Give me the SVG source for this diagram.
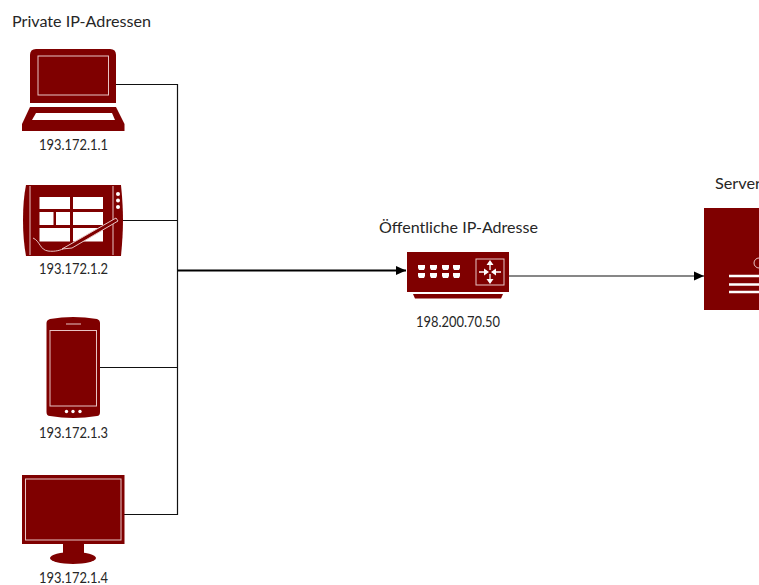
<svg xmlns="http://www.w3.org/2000/svg" width="759" height="585" viewBox="0 0 759 585">
<style>
.t{font-family:"Lato","Noto Sans","Liberation Sans",sans-serif;font-size:14.5px;fill:#262626}
.m{text-anchor:middle}
.f{fill:#7f0000}
.w{fill:#fff}
.o{fill:none;stroke:#e8c4c4;stroke-width:1}
.c{fill:none;stroke:#111;stroke-width:1.200}
</style>
<defs>
<marker id="a" markerUnits="userSpaceOnUse" markerWidth="11" markerHeight="10" refX="10" refY="5" orient="auto"><path d="M0 .5L10 5L0 9.500Z" fill="#000"/></marker>
</defs>
<rect width="759" height="585" fill="#fff"/>
<text class="t" x="12" y="27" textLength="139" lengthAdjust="spacingAndGlyphs">Private IP-Adressen</text>
<g id="connectors">
<path class="c" d="M116 84.500H177.500V514.500H124"/>
<path class="c" d="M123 220.500H177.500M100 367.500H177.500"/>
<path class="c" d="M177.500 270.500H406" marker-end="url(#a)" style="stroke:#000;stroke-width:1.800"/>
<path class="c" d="M509 276H704" marker-end="url(#a)"/>
</g>
<g id="laptop">
<path class="f" d="M30 55Q30 49 36 49H110Q116 49 116 55V103H30Z"/>
<rect class="o" x="38" y="56" width="70.500" height="39"/>
<path class="f" d="M30 107H116L124.500 124V131H22V124Z"/>
<path class="w" d="M36 113H112L115 120H32Z"/>
<text class="t m" x="73.500" y="150" textLength="69" lengthAdjust="spacingAndGlyphs">193.172.1.1</text>
</g>
<g id="tablet">
<path class="f" d="M26 185H121Q123 205 123 220T121 256H26Q23 240 23 220T26 185Z"/>
<path class="o" d="M30 186V255M113 186V255"/>
<path class="w" d="M39.500 197H70V209H39.500ZM73 197H103V209H73ZM39.500 212H53.500V225H39.500ZM56 212H70V225H56ZM73 212H103V225H73ZM39.500 228H70V241.500H39.500ZM73 228H103V241.500H73Z"/>
<circle class="w" cx="118" cy="194" r="2"/><circle class="w" cx="118" cy="200.500" r="2"/><circle class="w" cx="118" cy="207" r="2"/>
<path d="M62 249L116 218L118 221L72 248Z" class="f" stroke="#e8c4c4"/>
<path d="M33 238C40 241 40 250 48 251C55 252 62 250 64 248" fill="none" stroke="#e8c4c4"/>
<text class="t m" x="73.500" y="273.500" textLength="69" lengthAdjust="spacingAndGlyphs">193.172.1.2</text>
</g>
<g id="phone">
<path class="f" d="M50 319Q73 315 97 319Q100 320 100 323V412Q100 416 97 416Q73 420 50 416Q46.500 416 46.500 412V323Q46.500 320 50 319Z"/>
<rect class="o" x="50" y="330.500" width="46.500" height="75.500"/>
<path class="o" d="M66 324H81"/>
<circle class="w" cx="66.500" cy="411.500" r="1.700"/><circle class="w" cx="73" cy="411.500" r="1.700"/><circle class="w" cx="80" cy="411.500" r="1.700"/>
<text class="t m" x="73.500" y="437.500" textLength="69" lengthAdjust="spacingAndGlyphs">193.172.1.3</text>
</g>
<g id="monitor">
<rect class="f" x="22" y="475" width="102.500" height="69"/>
<rect class="o" x="25.500" y="479" width="95.500" height="61"/>
<rect class="f" x="63" y="544" width="21" height="10"/>
<ellipse class="f" cx="73" cy="558" rx="23" ry="6"/>
<text class="t m" x="73.500" y="582.500" textLength="69" lengthAdjust="spacingAndGlyphs">193.172.1.4</text>
</g>
<g id="router">
<text class="t m" x="458.500" y="233" textLength="159" lengthAdjust="spacingAndGlyphs">Öffentliche IP-Adresse</text>
<rect class="f" x="407" y="252" width="102" height="40"/>
<path class="f" d="M413 294H503L501 298.500H415Z"/>
<path class="w" d="M418 265H425V268L424 270H419L418 268ZM430 265H437V268L436 270H431L430 268ZM442 265H449V268L448 270H443L442 268ZM453 265H460V268L459 270H454L453 268ZM418 273H425V276L424 278H419L418 276ZM430 273H437V276L436 278H431L430 276ZM442 273H449V276L448 278H443L442 276ZM453 273H460V276L459 278H454L453 276Z"/>
<rect class="o" x="476" y="259" width="28" height="26"/>
<path d="M490 263V270M490 274V281M479 272H486M494 272H501" stroke="#fff" stroke-width="1.300" fill="none"/>
<path class="w" d="M490 260L493.500 265H486.500ZM490 284L493.500 279H486.500ZM489 272L484 268.500V275.500ZM491 272L496 268.500V275.500Z"/>
<text class="t m" x="458" y="327" textLength="84" lengthAdjust="spacingAndGlyphs">198.200.70.50</text>
</g>
<g id="server">
<text class="t" x="715" y="189" textLength="46" lengthAdjust="spacingAndGlyphs">Server</text>
<rect class="f" x="704" y="208" width="60" height="102"/>
<circle cx="759" cy="263" r="5" fill="none" stroke="#e8c4c4"/>
<path d="M729 276H759M729 284.500H759M729 292H759" stroke="#fff" stroke-width="2.500"/>
</g>
</svg>
